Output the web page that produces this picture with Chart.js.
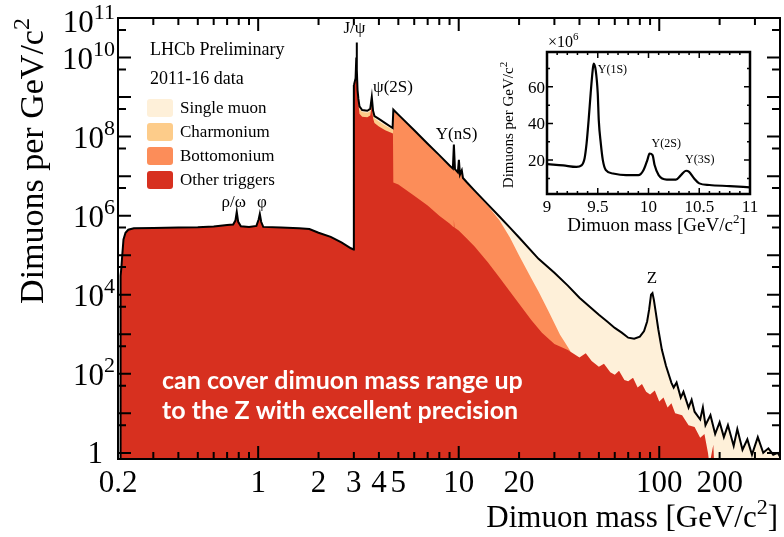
<!DOCTYPE html>
<html>
<head>
<meta charset="utf-8">
<script src="https://cdn.jsdelivr.net/npm/chart.js@4.4.1/dist/chart.umd.min.js"></script>
<style>
  html, body { margin: 0; padding: 0; background: #fff; }
  #wrap { position: relative; width: 784px; height: 537px; }
  #main { position: absolute; left: 0; top: 0; }
  #inset { position: absolute; left: 480px; top: 25px; }
</style>
</head>
<body>
<div id="wrap">
  <canvas id="main" width="784" height="537"></canvas>
  <canvas id="inset" width="290" height="225"></canvas>
</div>
<script>
// =============================
// DATA
// =============================
const seriesNames = ["Single muon", "Charmonium", "Bottomonium", "Other triggers"];
const seriesColors = ["#fef0d9", "#fdcc8a", "#fc8d59", "#d7301f"];

// below 3 GeV everything is "Other triggers", so this piece is shared
const lowMass = [0.2055, 0.206, 0.208, 0.21, 0.213, 0.218, 0.225, 0.24, 0.3, 0.4, 0.5, 0.6, 0.7, 0.75, 0.77,
  0.782, 0.795, 0.82, 0.9, 0.98, 1.005, 1.019, 1.035, 1.06, 1.3, 1.6, 1.8, 2.0, 2.3, 2.6, 2.9, 2.99];
const lowCount = [0.5, 3e4, 5e4, 1.0e5, 2.5e5, 3.7e5, 4.4e5, 4.8e5, 4.9e5, 5.0e5, 5.1e5, 5.3e5, 5.8e5, 6.0e5, 7.5e5,
  1.25e6, 7.0e5, 5.4e5, 5.2e5, 5.5e5, 8e5, 1.1e6, 7e5, 5.2e5, 5.0e5, 4.8e5, 4.6e5, 3.7e5, 2.9e5, 2.1e5, 1.5e5, 1.4e5];

// black outline = all dimuons, above 3 GeV
const totalMass = [3.0, 3.01, 3.06, 3.085, 3.097, 3.11, 3.13, 3.16, 3.2, 3.3, 3.5, 3.62, 3.686, 3.74, 3.8, 4.0, 4.3, 4.68,
  4.72, 5.0, 6.0, 7.0, 8.0, 9.0, 9.35, 9.46, 9.58, 9.9, 10.02, 10.15, 10.36, 10.5, 11, 12, 14, 16, 18, 20, 25, 30, 35,
  40, 45, 50, 55, 60, 65, 70, 75, 80, 84, 87, 89, 91, 92.5, 94, 96, 99, 103, 108, 115, 118, 122, 128, 132, 140, 145,
  150, 160, 165, 170, 180, 190, 200, 210, 220, 235, 245, 260, 275, 290, 310, 330, 350, 370, 390, 400];
const totalCount = [2.0e9, 2.1e9, 3.0e9, 1.0e10, 2.4e10, 5e9, 1.5e9, 9e8, 5.8e8, 4.7e8, 4.5e8, 5.0e8, 1.0e9, 4.5e8, 3.3e8, 2.8e8, 2.2e8, 1.65e8,
  4.8e8, 3.6e8, 1.45e8, 6.6e7, 3.4e7, 1.86e7, 1.55e7, 6.3e7, 1.5e7, 1.25e7, 2.6e7, 1.1e7, 1.4e7, 9.0e6, 6.9e6, 4.3e6, 1.9e6, 9.4e5, 5.0e5, 2.8e5, 8.1e4, 3.6e4, 1.7e4,
  8.4e3, 5.0e3, 3.1e3, 2.1e3, 1.45e3, 1.1e3, 8.2e2, 7.7e2, 8.7e2, 1.2e3, 2.1e3, 4.2e3, 1.0e4, 1.1e4, 7.4e3, 3.7e3, 1.3e3, 4.1e2, 1.6e2, 59, 45, 60, 25, 35, 14, 22,
  11, 7, 14, 5, 9, 3, 6, 2.5, 5, 1.5, 4, 1.2, 2.2, 0.9, 2.5, 1.0, 1.3, 0.9, 1.0, 0.8];

// top of the "Other triggers" band, above 3 GeV
const otherMass = [3.0, 3.01, 3.06, 3.085, 3.097, 3.11, 3.13, 3.16, 3.2, 3.3, 3.5, 3.62, 3.686, 3.74, 3.8, 4.0, 4.3, 4.7,
  4.72, 5.0, 6.0, 7.0, 8.0, 9.0, 9.4, 9.46, 9.52, 10, 11, 12, 14, 16, 18, 20, 23, 26, 30, 35, 40, 43, 46, 50, 53, 57, 60,
  63, 67, 70, 74, 78, 82, 86, 90, 95, 100, 105, 110, 115, 120, 130, 140, 150, 160, 168, 175, 178, 186, 188];
const otherCount = [1.9e9, 2.0e9, 2.6e9, 7e9, 1.5e10, 4e9, 1.2e9, 7e8, 3.8e8, 3.2e8, 3.1e8, 3.4e8, 6e8, 2.9e8, 2.2e8, 1.8e8, 1.45e8, 1.2e8,
  6.9e6, 6.1e6, 3.2e6, 1.8e6, 1.0e6, 6.3e5, 5.2e5, 8e5, 5.0e5, 4.2e5, 2.6e5, 1.65e5, 6.5e4, 2.7e4, 1.2e4, 5.9e3, 2.3e3, 1.1e3, 5.7e2, 4.0e2, 2.6e2, 3.3e2, 2.1e2, 1.5e2, 1.8e2, 1.1e2, 95,
  120, 70, 65, 80, 45, 55, 35, 30, 38, 20, 25, 14, 18, 10, 9, 5, 4.5, 2.4, 3, 1.0, 0.5, 1.6, 0.5];

// top of the "Bottomonium" band (stacked on other triggers)
const bottomMass = [4.70, 4.72, 5.0, 6.0, 7.0, 8.0, 9.0, 9.35, 9.46, 9.58, 9.9, 10.02, 10.15, 10.36, 10.5, 11, 12, 14,
  16, 18, 20, 23, 25, 28, 32, 34, 36, 37];
const bottomCount = [1.2e8, 4.6e8, 3.5e8, 1.4e8, 6.3e7, 3.2e7, 1.75e7, 1.45e7, 6.0e7, 1.4e7, 1.18e7, 2.4e7, 1.05e7, 1.3e7, 8.6e6, 6.5e6, 4.0e6, 1.75e6,
  7.5e5, 2.8e5, 9.8e4, 2.6e4, 1.2e4, 3.9e3, 9.7e2, 6e2, 3.8e2, 0.5];

// top of the "Charmonium" band (stacked on other triggers)
const charmMass = [3.0, 3.01, 3.06, 3.085, 3.097, 3.11, 3.13, 3.16, 3.2, 3.3, 3.5, 3.62, 3.686, 3.74, 3.8, 4.0, 4.3, 4.7, 4.71];
const charmCount = [1.95e9, 2.05e9, 2.8e9, 9e9, 2.0e10, 4.5e9, 1.4e9, 8.5e8, 5.0e8, 4.2e8, 4.0e8, 4.4e8, 8.5e8, 3.9e8, 2.9e8, 2.4e8, 1.9e8, 1.5e8, 0.5];

// inset: Upsilon region, counts in units of 10^6
const insetMass = [9.01, 9.16, 9.29, 9.34, 9.37, 9.39, 9.41, 9.43, 9.45, 9.46, 9.48, 9.50, 9.51, 9.53, 9.55, 9.58, 9.65,
  9.78, 9.90, 9.95, 9.99, 10.01, 10.04, 10.06, 10.10, 10.18, 10.27, 10.32, 10.37, 10.40, 10.45, 10.50, 10.60, 10.80, 11.0];
const insetCount = [17.8, 17.1, 16.3, 17.1, 20.9, 29.1, 41.8, 56.3, 69.0, 72.7, 69.0, 56.3, 41.8, 29.1, 20.0, 14.5, 12.7,
  11.8, 11.8, 14.5, 20.3, 23.6, 22.7, 17.3, 11.8, 9.4, 9.4, 11.8, 14.2, 13.6, 10.0, 7.3, 6.4, 5.8, 5.1];

const xTickLabels = [0.2, 1, 2, 3, 4, 5, 10, 20, 100, 200];
const yTickPowers = [0, 2, 4, 6, 8, 10, 11];
const insetXTicks = [9, 9.5, 10, 10.5, 11];
const insetYTicks = [20, 40, 60];

const peakNames = ["ρ/ω", "φ", "J/ψ", "ψ(2S)", "Υ(nS)", "Z"];
const peakMass = [0.755, 1.045, 3.02, 4.7, 9.75, 92];
const insetPeakNames = ["Υ(1S)", "Υ(2S)", "Υ(3S)"];
const insetPeakMass = [9.5, 10.03, 10.36];

// =============================
// HELPERS
// =============================
const SERIF = '"Liberation Serif", "Times New Roman", serif';
const pts = (xs, ys) => xs.map((m, i) => ({ x: m, y: ys[i] }));

// parts: [[text, isSuperscript], ...]; y is the baseline
function richText(ctx, parts, x, y, size, align) {
  const small = Math.round(size * 0.7);
  const widths = parts.map(([t, up]) => {
    ctx.font = `${up ? small : size}px ${SERIF}`;
    return ctx.measureText(t).width;
  });
  const total = widths.reduce((s, w) => s + w, 0);
  let cx = align === "right" ? x - total : align === "center" ? x - total / 2 : x;
  ctx.textAlign = "left";
  ctx.textBaseline = "alphabetic";
  parts.forEach(([t, up], i) => {
    ctx.font = `${up ? small : size}px ${SERIF}`;
    ctx.fillText(t, cx, up ? y - size * 0.42 : y);
    cx += widths[i];
  });
}

// =============================
// MAIN CHART
// =============================
const mainDecor = {
  id: "mainDecor",
  afterDraw(chart) {
    const { ctx, chartArea: a } = chart;
    const sx = chart.scales.x, sy = chart.scales.y;
    ctx.save();
    ctx.strokeStyle = "#000";
    ctx.fillStyle = "#000";
    ctx.lineWidth = 2;

    // ticks, drawn inwards on all four sides
    ctx.beginPath();
    for (const d of [0.1, 1, 10, 100]) {
      for (let k = 1; k <= 9; k++) {
        const v = k * d;
        if (v <= sx.min * 1.001 || v >= sx.max * 0.999) continue;
        const px = sx.getPixelForValue(v);
        const len = k === 1 ? 13 : 7;
        ctx.moveTo(px, a.bottom); ctx.lineTo(px, a.bottom - len);
        ctx.moveTo(px, a.top); ctx.lineTo(px, a.top + len);
      }
    }
    for (let p = -1; p <= 11; p++) {
      for (const [m, len] of [[1, 13], [5, 8]]) {
        const v = m * Math.pow(10, p);
        if (v < sy.min || v >= sy.max) continue;
        const py = sy.getPixelForValue(v);
        ctx.moveTo(a.left, py); ctx.lineTo(a.left + len, py);
        ctx.moveTo(a.right, py); ctx.lineTo(a.right - len, py);
      }
    }
    ctx.stroke();
    ctx.strokeRect(a.left, a.top, a.right - a.left, a.bottom - a.top);

    // tick labels
    xTickLabels.forEach(v => {
      richText(ctx, [[String(v), false]], sx.getPixelForValue(v), a.bottom + 33, 31, "center");
    });
    yTickPowers.forEach(p => {
      const py = sy.getPixelForValue(Math.pow(10, p));
      if (p === 0) richText(ctx, [["1", false]], a.left - 15, py + 10, 31, "right");
      else richText(ctx, [["10", false], [String(p), true]], a.left - 3, p === 11 ? py + 14 : py + 11, 31, "right");
    });

    // axis titles
    richText(ctx, [["Dimuon mass [GeV/c", false], ["2", true], ["]", false]], a.right - 2, 527, 31, "right");
    ctx.save();
    ctx.translate(43, 161);
    ctx.rotate(-Math.PI / 2);
    richText(ctx, [["Dimuons per GeV/c", false], ["2", true]], 0, 0, 34, "center");
    ctx.restore();

    // header + legend
    richText(ctx, [["LHCb Preliminary", false]], 150, 55, 18, "left");
    richText(ctx, [["2011-16 data", false]], 150, 84, 18, "left");
    seriesNames.forEach((name, i) => {
      const top = 99 + i * 24;
      ctx.fillStyle = seriesColors[i];
      ctx.beginPath();
      ctx.roundRect(147, top, 26, 18, 3);
      ctx.fill();
      ctx.fillStyle = "#000";
      richText(ctx, [[name, false]], 180, top + 14, 17, "left");
    });

    // peak labels
    const peakY = [207, 207, 33, 92, 139, 283];
    peakNames.forEach((t, i) => {
      richText(ctx, [[t, false]], sx.getPixelForValue(peakMass[i]), peakY[i], 17, "center");
    });

    // white message
    ctx.fillStyle = "#fff";
    ctx.textAlign = "left";
    ctx.textBaseline = "alphabetic";
    const line1 = "can cover dimuon mass range up";
    const line2 = "to the Z with excellent precision";
    ctx.font = 'bold 20px Lato, "Open Sans", sans-serif';
    const fs = 20 * 360 / ctx.measureText(line1).width;
    ctx.font = `bold ${fs.toFixed(1)}px Lato, "Open Sans", sans-serif`;
    ctx.fillText(line1, 162, 389);
    ctx.fillText(line2, 162, 419);
    ctx.restore();
  }
};

new Chart(document.getElementById("main"), {
  type: "scatter",
  data: {
    datasets: [
      { label: "total", data: pts(lowMass.concat(totalMass), lowCount.concat(totalCount)), showLine: true,
        borderColor: "#000", borderWidth: 2, pointRadius: 0, fill: false },
      { label: seriesNames[3], data: pts(lowMass.concat(otherMass), lowCount.concat(otherCount)), showLine: true,
        borderWidth: 0, backgroundColor: seriesColors[3], pointRadius: 0, fill: "start" },
      { label: seriesNames[2], data: pts(bottomMass, bottomCount), showLine: true,
        borderWidth: 0, backgroundColor: seriesColors[2], pointRadius: 0, fill: "start" },
      { label: seriesNames[1], data: pts(charmMass, charmCount), showLine: true,
        borderWidth: 0, backgroundColor: seriesColors[1], pointRadius: 0, fill: "start" },
      { label: seriesNames[0], data: pts(lowMass.concat(totalMass), lowCount.concat(totalCount)), showLine: true,
        borderWidth: 0, backgroundColor: seriesColors[0], pointRadius: 0, fill: "start" }
    ]
  },
  options: {
    responsive: false,
    animation: false,
    events: [],
    layout: { padding: { top: 18, right: 4, left: 0, bottom: 0 } },
    plugins: { legend: { display: false }, tooltip: { enabled: false } },
    scales: {
      x: {
        type: "logarithmic", min: 0.2, max: 400,
        grid: { display: false }, border: { display: false }, ticks: { display: false },
        afterFit: s => { s.height = 78; }
      },
      y: {
        type: "logarithmic", min: 0.7, max: 1e11,
        grid: { display: false }, border: { display: false }, ticks: { display: false },
        afterFit: s => { s.width = 118; }
      }
    }
  },
  plugins: [mainDecor]
});

// =============================
// INSET
// =============================
const insetDecor = {
  id: "insetDecor",
  beforeDatasetsDraw(chart) {
    const { ctx, chartArea: a } = chart;
    ctx.save();
    ctx.fillStyle = "#fff";
    ctx.fillRect(a.left, a.top, a.right - a.left, a.bottom - a.top);
    ctx.restore();
  },
  afterDraw(chart) {
    const { ctx, chartArea: a } = chart;
    const sx = chart.scales.x, sy = chart.scales.y;
    ctx.save();
    ctx.strokeStyle = "#000";
    ctx.fillStyle = "#000";
    ctx.lineWidth = 1.5;
    ctx.beginPath();
    for (let i = 1; i < 20; i++) {
      const v = 9 + i * 0.1;
      const px = sx.getPixelForValue(v);
      const len = i % 5 === 0 ? 6 : 3;
      ctx.moveTo(px, a.bottom); ctx.lineTo(px, a.bottom - len);
      ctx.moveTo(px, a.top); ctx.lineTo(px, a.top + len);
    }
    for (let v = 10; v < sy.max; v += 10) {
      const py = sy.getPixelForValue(v);
      const len = v % 20 === 0 ? 6 : 3;
      ctx.moveTo(a.left, py); ctx.lineTo(a.left + len, py);
      ctx.moveTo(a.right, py); ctx.lineTo(a.right - len, py);
    }
    ctx.stroke();
    ctx.lineWidth = 2.5;
    ctx.strokeRect(a.left, a.top, a.right - a.left, a.bottom - a.top);

    insetXTicks.forEach(v => {
      richText(ctx, [[String(v), false]], sx.getPixelForValue(v), a.bottom + 18, 17, "center");
    });
    insetYTicks.forEach(v => {
      richText(ctx, [[String(v), false]], a.left - 2, sy.getPixelForValue(v) + 6, 17, "right");
    });
    richText(ctx, [["×10", false], ["6", true]], a.left + 1, 22, 16, "left");
    richText(ctx, [["Dimuon mass [GeV/c", false], ["2", true], ["]", false]], (a.left + a.right) / 2 + 8, 206, 19, "center");
    ctx.save();
    ctx.translate(33, (a.top + a.bottom) / 2 + 2);
    ctx.rotate(-Math.PI / 2);
    richText(ctx, [["Dimuons per GeV/c", false], ["2", true]], 0, 0, 15, "center");
    ctx.restore();

    const labelY = [48, 122, 138];
    insetPeakNames.forEach((t, i) => {
      richText(ctx, [[t, false]], sx.getPixelForValue(insetPeakMass[i]), labelY[i], 12, "left");
    });
    ctx.restore();
  }
};

new Chart(document.getElementById("inset"), {
  type: "scatter",
  data: {
    datasets: [{
      data: pts(insetMass, insetCount), showLine: true, borderColor: "#000", borderWidth: 2.2,
      pointRadius: 0, cubicInterpolationMode: "monotone", fill: false
    }]
  },
  options: {
    responsive: false,
    animation: false,
    events: [],
    layout: { padding: { top: 27, right: 20, left: 0, bottom: 0 } },
    plugins: { legend: { display: false }, tooltip: { enabled: false } },
    scales: {
      x: {
        type: "linear", min: 9, max: 11,
        grid: { display: false }, border: { display: false }, ticks: { display: false },
        afterFit: s => { s.height = 56; }
      },
      y: {
        type: "linear", min: 1.5, max: 79,
        grid: { display: false }, border: { display: false }, ticks: { display: false },
        afterFit: s => { s.width = 67; }
      }
    }
  },
  plugins: [insetDecor]
});
</script>
</body>
</html>
